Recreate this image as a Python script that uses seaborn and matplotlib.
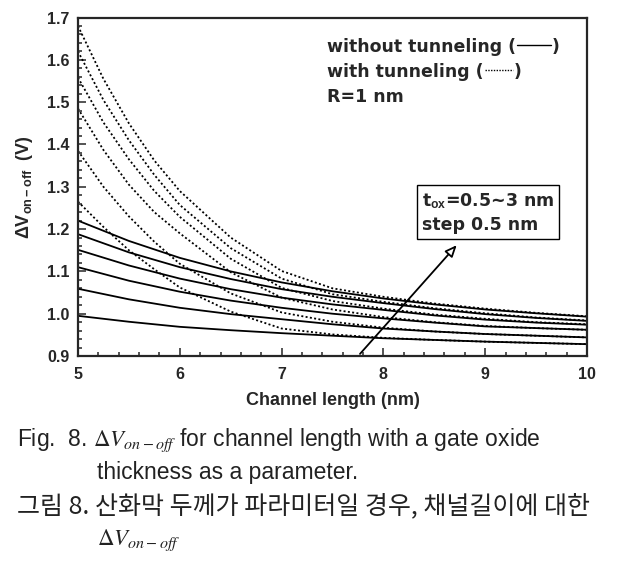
import numpy as np
import pandas as pd
import matplotlib
matplotlib.use('Agg')
import matplotlib.pyplot as plt
from matplotlib import font_manager
from matplotlib.ticker import MultipleLocator, FormatStrFormatter
import seaborn as sns

# channel length grids (nm)
length_solid = [5.0, 5.5, 6.0, 6.5, 7.0, 7.5, 8.0, 8.5, 9.0, 9.5, 10.0]
length_dot = [5.0, 5.25, 5.5, 5.75, 6.0, 6.5, 7.0, 7.5, 8.0, 8.5, 9.0, 9.5, 10.0]

tox = [0.5, 1.0, 1.5, 2.0, 2.5, 3.0]

# without tunneling (solid), tox = 0.5 ... 3.0
dv_solid = [
    [0.995, 0.981, 0.969, 0.961, 0.954, 0.948, 0.942, 0.938, 0.934, 0.931, 0.928],
    [1.059, 1.034, 1.014, 0.999, 0.987, 0.975, 0.965, 0.958, 0.952, 0.948, 0.944],
    [1.110, 1.078, 1.052, 1.031, 1.014, 1.000, 0.989, 0.979, 0.970, 0.966, 0.962],
    [1.151, 1.114, 1.083, 1.058, 1.038, 1.022, 1.009, 0.996, 0.986, 0.979, 0.974],
    [1.188, 1.145, 1.110, 1.082, 1.058, 1.040, 1.025, 1.011, 0.999, 0.990, 0.983],
    [1.220, 1.172, 1.132, 1.100, 1.074, 1.053, 1.036, 1.022, 1.010, 1.001, 0.993],
]
# with tunneling (dotted)
dv_dot = [
    [1.265, 1.205, 1.150, 1.105, 1.062, 1.005, 0.965, 0.951, 0.943, 0.938, 0.934, 0.931, 0.928],
    [1.385, 1.300, 1.230, 1.170, 1.118, 1.048, 1.003, 0.981, 0.967, 0.958, 0.952, 0.948, 0.944],
    [1.485, 1.387, 1.305, 1.240, 1.190, 1.098, 1.038, 1.010, 0.992, 0.980, 0.971, 0.966, 0.962],
    [1.558, 1.452, 1.365, 1.290, 1.229, 1.130, 1.061, 1.030, 1.012, 0.998, 0.988, 0.980, 0.975],
    [1.620, 1.505, 1.410, 1.328, 1.257, 1.155, 1.083, 1.046, 1.028, 1.013, 1.001, 0.991, 0.984],
    [1.680, 1.555, 1.450, 1.362, 1.290, 1.180, 1.101, 1.060, 1.040, 1.024, 1.012, 1.002, 0.994],
]

rows = []
for t, vals in zip(tox, dv_solid):
    for l, v in zip(length_solid, vals):
        rows.append({'length': l, 'dv': v, 'tox': t, 'kind': 'without'})
for t, vals in zip(tox, dv_dot):
    for l, v in zip(length_dot, vals):
        rows.append({'length': l, 'dv': v, 'tox': t, 'kind': 'with'})
df = pd.DataFrame(rows)

sns.set_style('ticks')
plt.rcParams['font.family'] = ['Liberation Sans', 'DejaVu Sans']
plt.rcParams['mathtext.fontset'] = 'custom'
plt.rcParams['mathtext.rm'] = 'Liberation Sans:bold'
plt.rcParams['mathtext.it'] = 'Liberation Sans:bold'
plt.rcParams['mathtext.bf'] = 'Liberation Sans:bold'

fig = plt.figure(figsize=(6.17, 5.66), dpi=100)
ax = fig.add_axes([0.1264, 0.371, 0.8250, 0.598])

sns.lineplot(data=df, x='length', y='dv', style='kind', units='tox',
             estimator=None, color='black', linewidth=1.3,
             dashes={'without': '', 'with': (1.1, 1.3)}, legend=False, ax=ax)

ax.set_xlim(5, 10)
ax.set_ylim(0.9, 1.7)
ax.xaxis.set_major_locator(MultipleLocator(1))
ax.xaxis.set_minor_locator(MultipleLocator(0.2))
ax.yaxis.set_major_locator(MultipleLocator(0.1))
ax.yaxis.set_minor_locator(MultipleLocator(0.02))
ax.yaxis.set_major_formatter(FormatStrFormatter('%.1f'))
ax.tick_params(which='both', direction='in', top=False, right=False, width=1.1)
ax.tick_params(which='major', length=6)
ax.tick_params(which='minor', length=3)
ax.tick_params(axis='y', pad=6)
ax.tick_params(axis='x', pad=8)
for lab in ax.get_xticklabels() + ax.get_yticklabels():
    lab.set_fontweight('bold')
    lab.set_fontsize(11.5)
for sp in ax.spines.values():
    sp.set_linewidth(1.6)

ax.set_xlabel('Channel length (nm)', fontsize=13, fontweight='bold')
ax.xaxis.set_label_coords(0.5, -0.105)
ax.set_ylabel(r'$\Delta$V$_{\mathrm{on-off}}$  (V)', fontsize=13, fontweight='bold')
ax.yaxis.set_label_coords(-0.085, 0.5)

# legend-like notes
fig.canvas.draw()
renderer = fig.canvas.get_renderer()
note_kw = dict(fontsize=12.5, fontweight='bold', family='DejaVu Sans', va='center')
inv = ax.transData.inverted()
for y, label, ls, seg in [(1.630, 'without tunneling (', '-', 0.33),
                          (1.571, 'with tunneling (', (0, (1.0, 1.0)), 0.28)]:
    t = ax.text(7.446, y, label, **note_kw)
    bb = t.get_window_extent(renderer).transformed(inv)
    x0 = bb.x1 + 0.01
    ax.plot([x0, x0 + seg], [y + 0.004, y + 0.004], color='black', lw=1.0, linestyle=ls)
    ax.text(x0 + seg + 0.01, y, ')', **note_kw)
ax.text(7.446, 1.512, 'R=1 nm', **note_kw)

ax.text(9.027, 1.239, 't$_{\\mathrm{ox}}$=0.5~3 nm\nstep 0.5 nm', ha='center', va='center',
        multialignment='left',
        fontsize=12.5, fontweight='bold', family='DejaVu Sans', linespacing=1.4,
        bbox=dict(boxstyle='square,pad=0.3', fc='white', ec='black', lw=1.0))
ax.annotate('', xy=(8.72, 1.162), xytext=(7.77, 0.905),
            arrowprops=dict(arrowstyle='-|>,head_length=0.7,head_width=0.3',
                            fc='white', ec='black', lw=1.3, shrinkA=0, shrinkB=0))

# caption
names = {f.name for f in font_manager.fontManager.ttflist}
if 'Liberation Sans Narrow' in names:
    cap_fam, cap_size = ['Liberation Sans Narrow', 'Noto Sans CJK KR'], 18
else:
    cap_fam, cap_size = ['Liberation Sans', 'Noto Sans CJK KR'], 16.5
W, H = 617.0, 566.0
cap_kw = dict(family=cap_fam, fontsize=cap_size, va='center', math_fontfamily='stix', color='#222222')
fig.text(17 / W, 1 - 440 / H, r'Fig.  8. $\mathit{\Delta V_{on-off}}$ for channel length with a gate oxide', **cap_kw)
fig.text(97 / W, 1 - 472 / H, 'thickness as a parameter.', **cap_kw)
fig.text(17 / W, 1 - 506 / H, '그림 8. 산화막 두께가 파라미터일 경우, 채널길이에 대한',
         family=['Noto Sans CJK KR', 'DejaVu Sans'], fontsize=18, va='center', color='#222222')
fig.text(97 / W, 1 - 540 / H, r'$\mathit{\Delta V_{on-off}}$', **cap_kw)

fig.savefig('out.png', dpi=100)
